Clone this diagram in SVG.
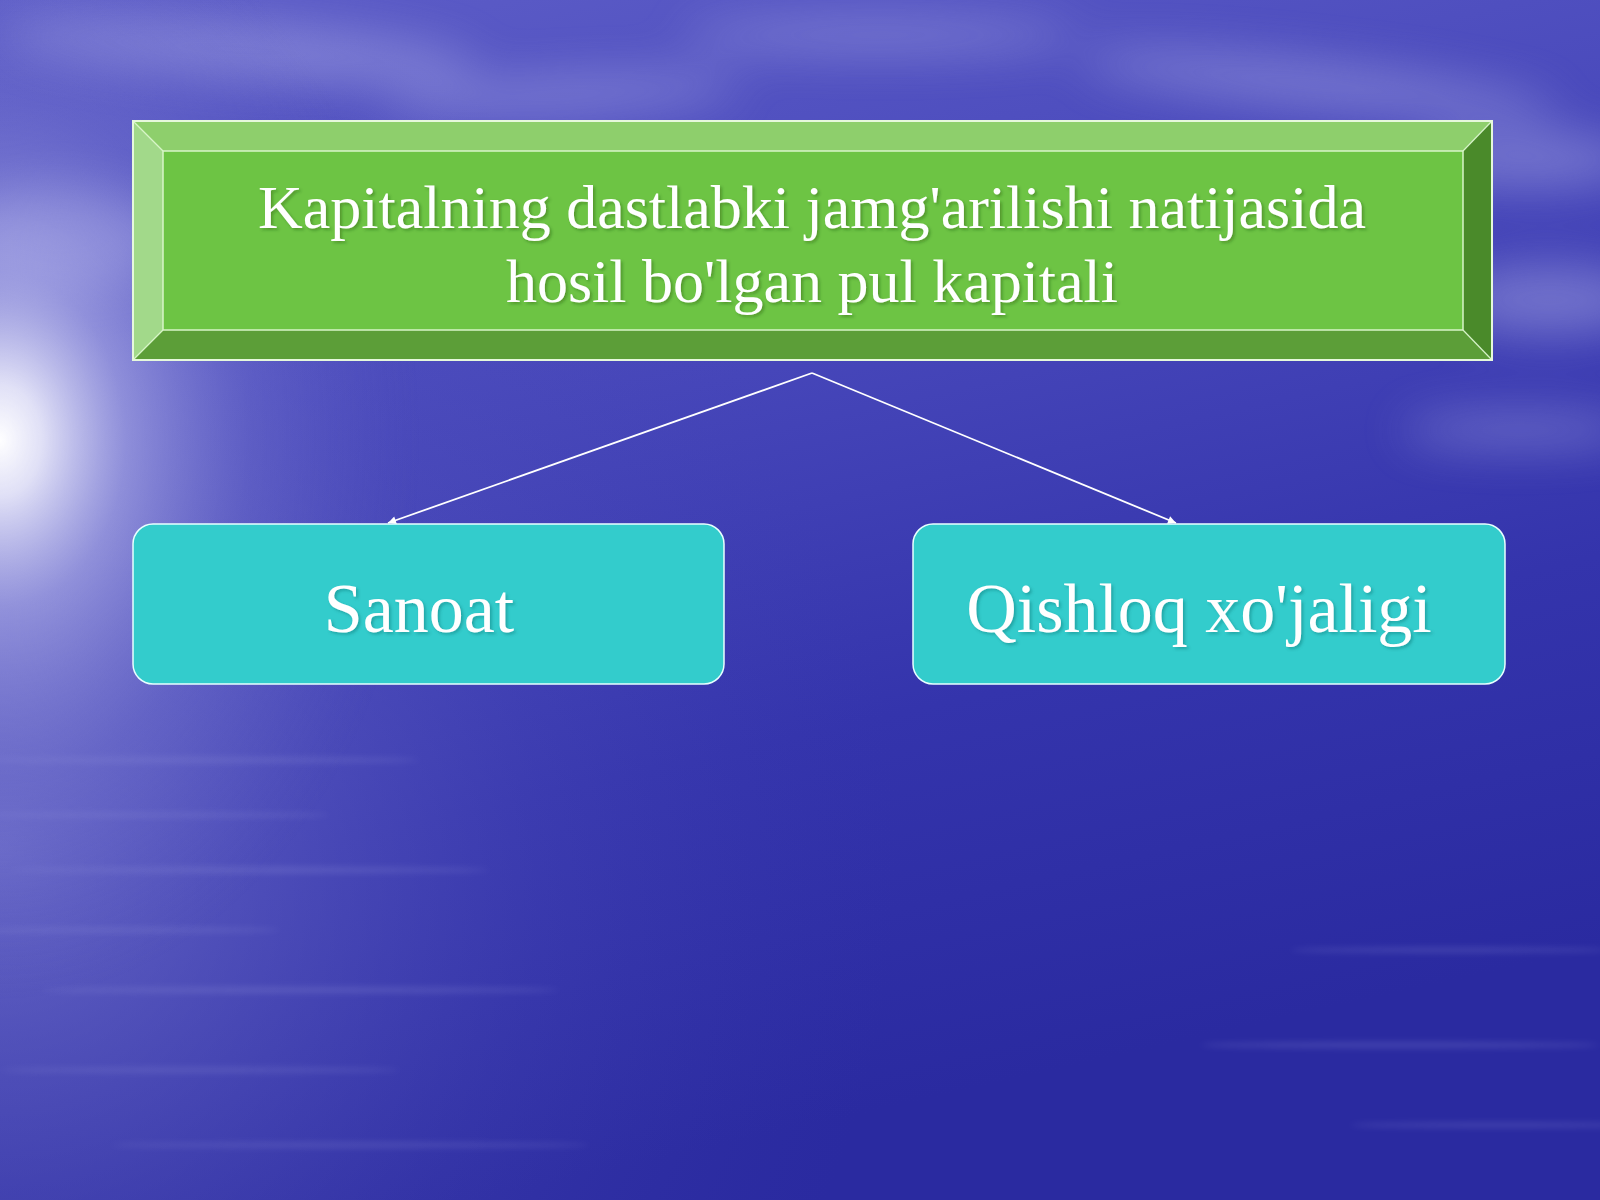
<svg xmlns="http://www.w3.org/2000/svg" width="1600" height="1200" viewBox="0 0 1600 1200">
<defs>
  <linearGradient id="bg" x1="0" y1="0" x2="0.3" y2="1">
    <stop offset="0" stop-color="#5e5ec8"/>
    <stop offset="0.35" stop-color="#4a4abc"/>
    <stop offset="0.7" stop-color="#3434ac"/>
    <stop offset="1" stop-color="#2a2aa0"/>
  </linearGradient>
  <radialGradient id="glow" cx="0" cy="0" r="1" gradientUnits="userSpaceOnUse" gradientTransform="translate(0 440) scale(420 560)">
    <stop offset="0" stop-color="#ffffff" stop-opacity="1"/>
    <stop offset="0.1" stop-color="#f0f0fc" stop-opacity="0.9"/>
    <stop offset="0.3" stop-color="#b8b8ec" stop-opacity="0.6"/>
    <stop offset="0.6" stop-color="#8282d6" stop-opacity="0.3"/>
    <stop offset="1" stop-color="#6060c8" stop-opacity="0"/>
  </radialGradient>
  <radialGradient id="sea" cx="0" cy="850" r="900" gradientUnits="userSpaceOnUse">
    <stop offset="0" stop-color="#9090da" stop-opacity="0.55"/>
    <stop offset="0.6" stop-color="#5a5ac0" stop-opacity="0.2"/>
    <stop offset="1" stop-color="#4040b0" stop-opacity="0"/>
  </radialGradient>
  <filter id="blur" x="-30%" y="-100%" width="160%" height="300%">
    <feGaussianBlur stdDeviation="24"/>
  </filter>
  <filter id="blur2" x="-20%" y="-200%" width="140%" height="500%">
    <feGaussianBlur stdDeviation="3"/>
  </filter>
  <filter id="tshadow" x="-5%" y="-20%" width="110%" height="140%">
    <feDropShadow dx="2" dy="2" stdDeviation="1.5" flood-color="#204010" flood-opacity="0.35"/>
  </filter>
  <filter id="tshadow2" x="-5%" y="-20%" width="110%" height="140%">
    <feDropShadow dx="2" dy="2" stdDeviation="1.5" flood-color="#106060" flood-opacity="0.35"/>
  </filter>
  <marker id="arr" viewBox="0 0 10 10" refX="10" refY="5" markerWidth="9" markerHeight="8" orient="auto" markerUnits="userSpaceOnUse">
    <path d="M0,0 L10,5 L0,10 z" fill="#ffffff"/>
  </marker>
  <style>
    .t { font-family: "Liberation Serif", "Times New Roman", serif; fill: #ffffff; text-anchor: middle; }
    .conn { stroke: #ffffff; stroke-width: 1.8; fill: none; }
    .leaf { fill: #33cccc; stroke: #e8ffff; stroke-width: 1.5; }
  </style>
</defs>

<!-- background -->
<rect x="0" y="0" width="1600" height="1200" fill="url(#bg)"/>
<rect x="0" y="0" width="1600" height="1200" fill="url(#sea)"/>
<g filter="url(#blur)" fill="#b4b4ea" opacity="0.45">
  <ellipse cx="240" cy="50" rx="240" ry="28" transform="rotate(4 240 50)"/>
  <ellipse cx="560" cy="95" rx="180" ry="18" transform="rotate(-3 560 95)"/>
  <ellipse cx="880" cy="35" rx="200" ry="16"/>
  <ellipse cx="1320" cy="85" rx="240" ry="22" transform="rotate(6 1320 85)"/>
  <ellipse cx="1530" cy="160" rx="110" ry="26"/>
  <ellipse cx="1550" cy="300" rx="100" ry="34"/>
  <ellipse cx="60" cy="240" rx="110" ry="50"/>
  <ellipse cx="1520" cy="430" rx="120" ry="16"/>
</g>
<g filter="url(#blur2)" fill="#a0a0e2" opacity="0.22">
  <ellipse cx="200" cy="760" rx="220" ry="3"/>
  <ellipse cx="150" cy="815" rx="180" ry="2.5"/>
  <ellipse cx="250" cy="870" rx="240" ry="3"/>
  <ellipse cx="120" cy="930" rx="160" ry="2.5"/>
  <ellipse cx="300" cy="990" rx="260" ry="3"/>
  <ellipse cx="1450" cy="950" rx="160" ry="2.5"/>
  <ellipse cx="1400" cy="1045" rx="200" ry="3"/>
  <ellipse cx="1500" cy="1125" rx="150" ry="2.5"/>
  <ellipse cx="200" cy="1070" rx="200" ry="2.5"/>
  <ellipse cx="350" cy="1145" rx="240" ry="2.5"/>
</g>
<rect x="0" y="0" width="1600" height="1200" fill="url(#glow)"/>

<!-- connectors -->
<g id="connectors">
  <line class="conn" x1="812" y1="373" x2="388" y2="523" marker-end="url(#arr)"/>
  <line class="conn" x1="812" y1="373" x2="1176" y2="523" marker-end="url(#arr)"/>
</g>

<!-- top node -->
<g id="node-root">
  <polygon points="133,121 1492,121 1463,151 163,151" fill="#8ecf6c"/>
  <polygon points="133,121 163,151 163,330 133,360" fill="#a2d98a"/>
  <polygon points="1492,121 1492,360 1463,330 1463,151" fill="#4a8a2a"/>
  <polygon points="133,360 163,330 1463,330 1492,360" fill="#5c9e38"/>
  <rect x="163" y="151" width="1300" height="179" fill="#6dc444" stroke="#d8f5c8" stroke-width="1.5"/>
  <line x1="133" y1="121" x2="163" y2="151" stroke="#d8f5c8" stroke-width="1.2"/>
  <line x1="1492" y1="121" x2="1463" y2="151" stroke="#d8f5c8" stroke-width="1.2"/>
  <line x1="133" y1="360" x2="163" y2="330" stroke="#d8f5c8" stroke-width="1.2"/>
  <line x1="1492" y1="360" x2="1463" y2="330" stroke="#d8f5c8" stroke-width="1.2"/>
  <rect x="133" y="121" width="1359" height="239" fill="none" stroke="#e6f8dc" stroke-width="2"/>
  <g filter="url(#tshadow)">
    <text class="t" x="812" y="228" font-size="62">Kapitalning dastlabki jamg'arilishi natijasida</text>
    <text class="t" x="812" y="302" font-size="62">hosil bo'lgan pul kapitali</text>
  </g>
</g>

<!-- left leaf -->
<g id="node-sanoat">
  <rect class="leaf" x="133" y="524" width="591" height="160" rx="20" ry="20"/>
  <text class="t" x="419" y="632" font-size="70" filter="url(#tshadow2)">Sanoat</text>
</g>

<!-- right leaf -->
<g id="node-qishloq">
  <rect class="leaf" x="913" y="524" width="592" height="160" rx="20" ry="20"/>
  <text class="t" x="1199" y="632" font-size="70" filter="url(#tshadow2)">Qishloq xo'jaligi</text>
</g>
</svg>
